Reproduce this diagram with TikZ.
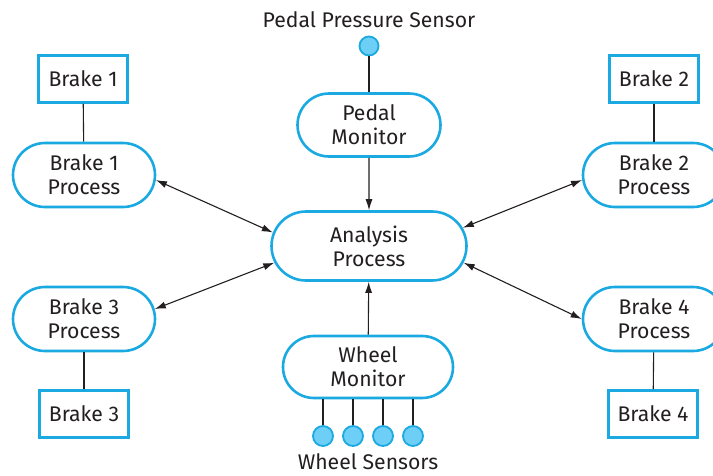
\documentclass[tikz,border=0pt]{standalone}
\usepackage{fontspec}
\setmainfont{Fira Sans}
\usetikzlibrary{positioning, arrows.meta, shapes.misc}
\definecolor{procblue}{HTML}{1BA9E1}
\definecolor{sensorfill}{HTML}{6DCFF6}
\definecolor{wire}{HTML}{231F20}

\begin{document}
\begin{tikzpicture}[x=1pt, y=-1pt,
        every node/.style={font=\fontsize{21.2}{24}\selectfont, text=wire, align=center},
        proc/.style={rounded rectangle, draw=procblue, line width=2.6pt, fill=white, minimum width=142pt, minimum height=63pt, inner sep=0pt},
        brake/.style={rectangle, draw=procblue, line width=2.6pt, fill=white, minimum width=89pt, minimum height=47pt},
        sensor/.style={circle, draw=procblue, fill=sensorfill, line width=1.8pt, minimum size=19pt, inner sep=0pt},
        link/.style={draw=wire, line width=1.1pt},
        msg/.style={link, {Latex[length=11pt,width=7pt]}-{Latex[length=11pt,width=7pt]}}
    ]
    \clip (0,0) rectangle (713,475);
    % processes
    \node[proc, minimum width=195pt, minimum height=69pt] (Analysis) at (369,246) {Analysis\\Process};
    \node[proc, minimum width=143pt] (PedalMon) at (369,125) {Pedal\\Monitor};
    \node[proc, minimum width=170pt, minimum height=62pt] (WheelMon) at (368,367) {Wheel\\Monitor};
    \node[proc, minimum height=64pt] (B1Proc) at (84,175) {Brake 1\\Process};
    \node[proc, minimum height=64pt] (B2Proc) at (654,175) {Brake 2\\Process};
    \node[proc, minimum height=64pt] (B3Proc) at (84,319) {Brake 3\\Process};
    \node[proc, minimum height=64pt] (B4Proc) at (654,319) {Brake 4\\Process};
    % brakes
    \node[brake] (B1) at (83,79) {Brake 1};
    \node[brake] (B2) at (654,79) {Brake 2};
    \node[brake] (B3) at (84,414) {Brake 3};
    \node[brake] (B4) at (653,414) {Brake 4};
    % sensors
    \node[sensor] (PedalSen) at (369,46) {};
    \node (PedalLbl) at (369,20) {Pedal Pressure Sensor};
    \foreach \i/\x in {1/323, 2/353, 3/383, 4/413} {
        \node[sensor, minimum size=20pt] (WheelSen\i) at (\x,436) {};
        \draw[link] (WheelSen\i) -- (WheelSen\i |- WheelMon.south);
    }
    \node (WheelLbl) at (368,462) {Wheel Sensors};
    % connectors
    \draw[link] (PedalSen) -- (PedalMon);
    \draw[link] (B1) -- (B1Proc);
    \draw[link] (B2) -- (B2Proc);
    \draw[link] (B3) -- (B3Proc);
    \draw[link] (B4) -- (B4Proc);
    \draw[link, -{Latex[length=11pt,width=7pt]}] (PedalMon) -- (Analysis);
    \draw[link, -{Latex[length=11pt,width=7pt]}] (WheelMon) -- (Analysis);
    \draw[msg] (B1Proc.-4) -- (Analysis.172);
    \draw[msg] (B3Proc.8) -- (Analysis.190);
    \draw[msg] (B2Proc.184) -- (Analysis.11);
    \draw[msg] (B4Proc.west) -- (Analysis.350);
\end{tikzpicture}
\end{document}
